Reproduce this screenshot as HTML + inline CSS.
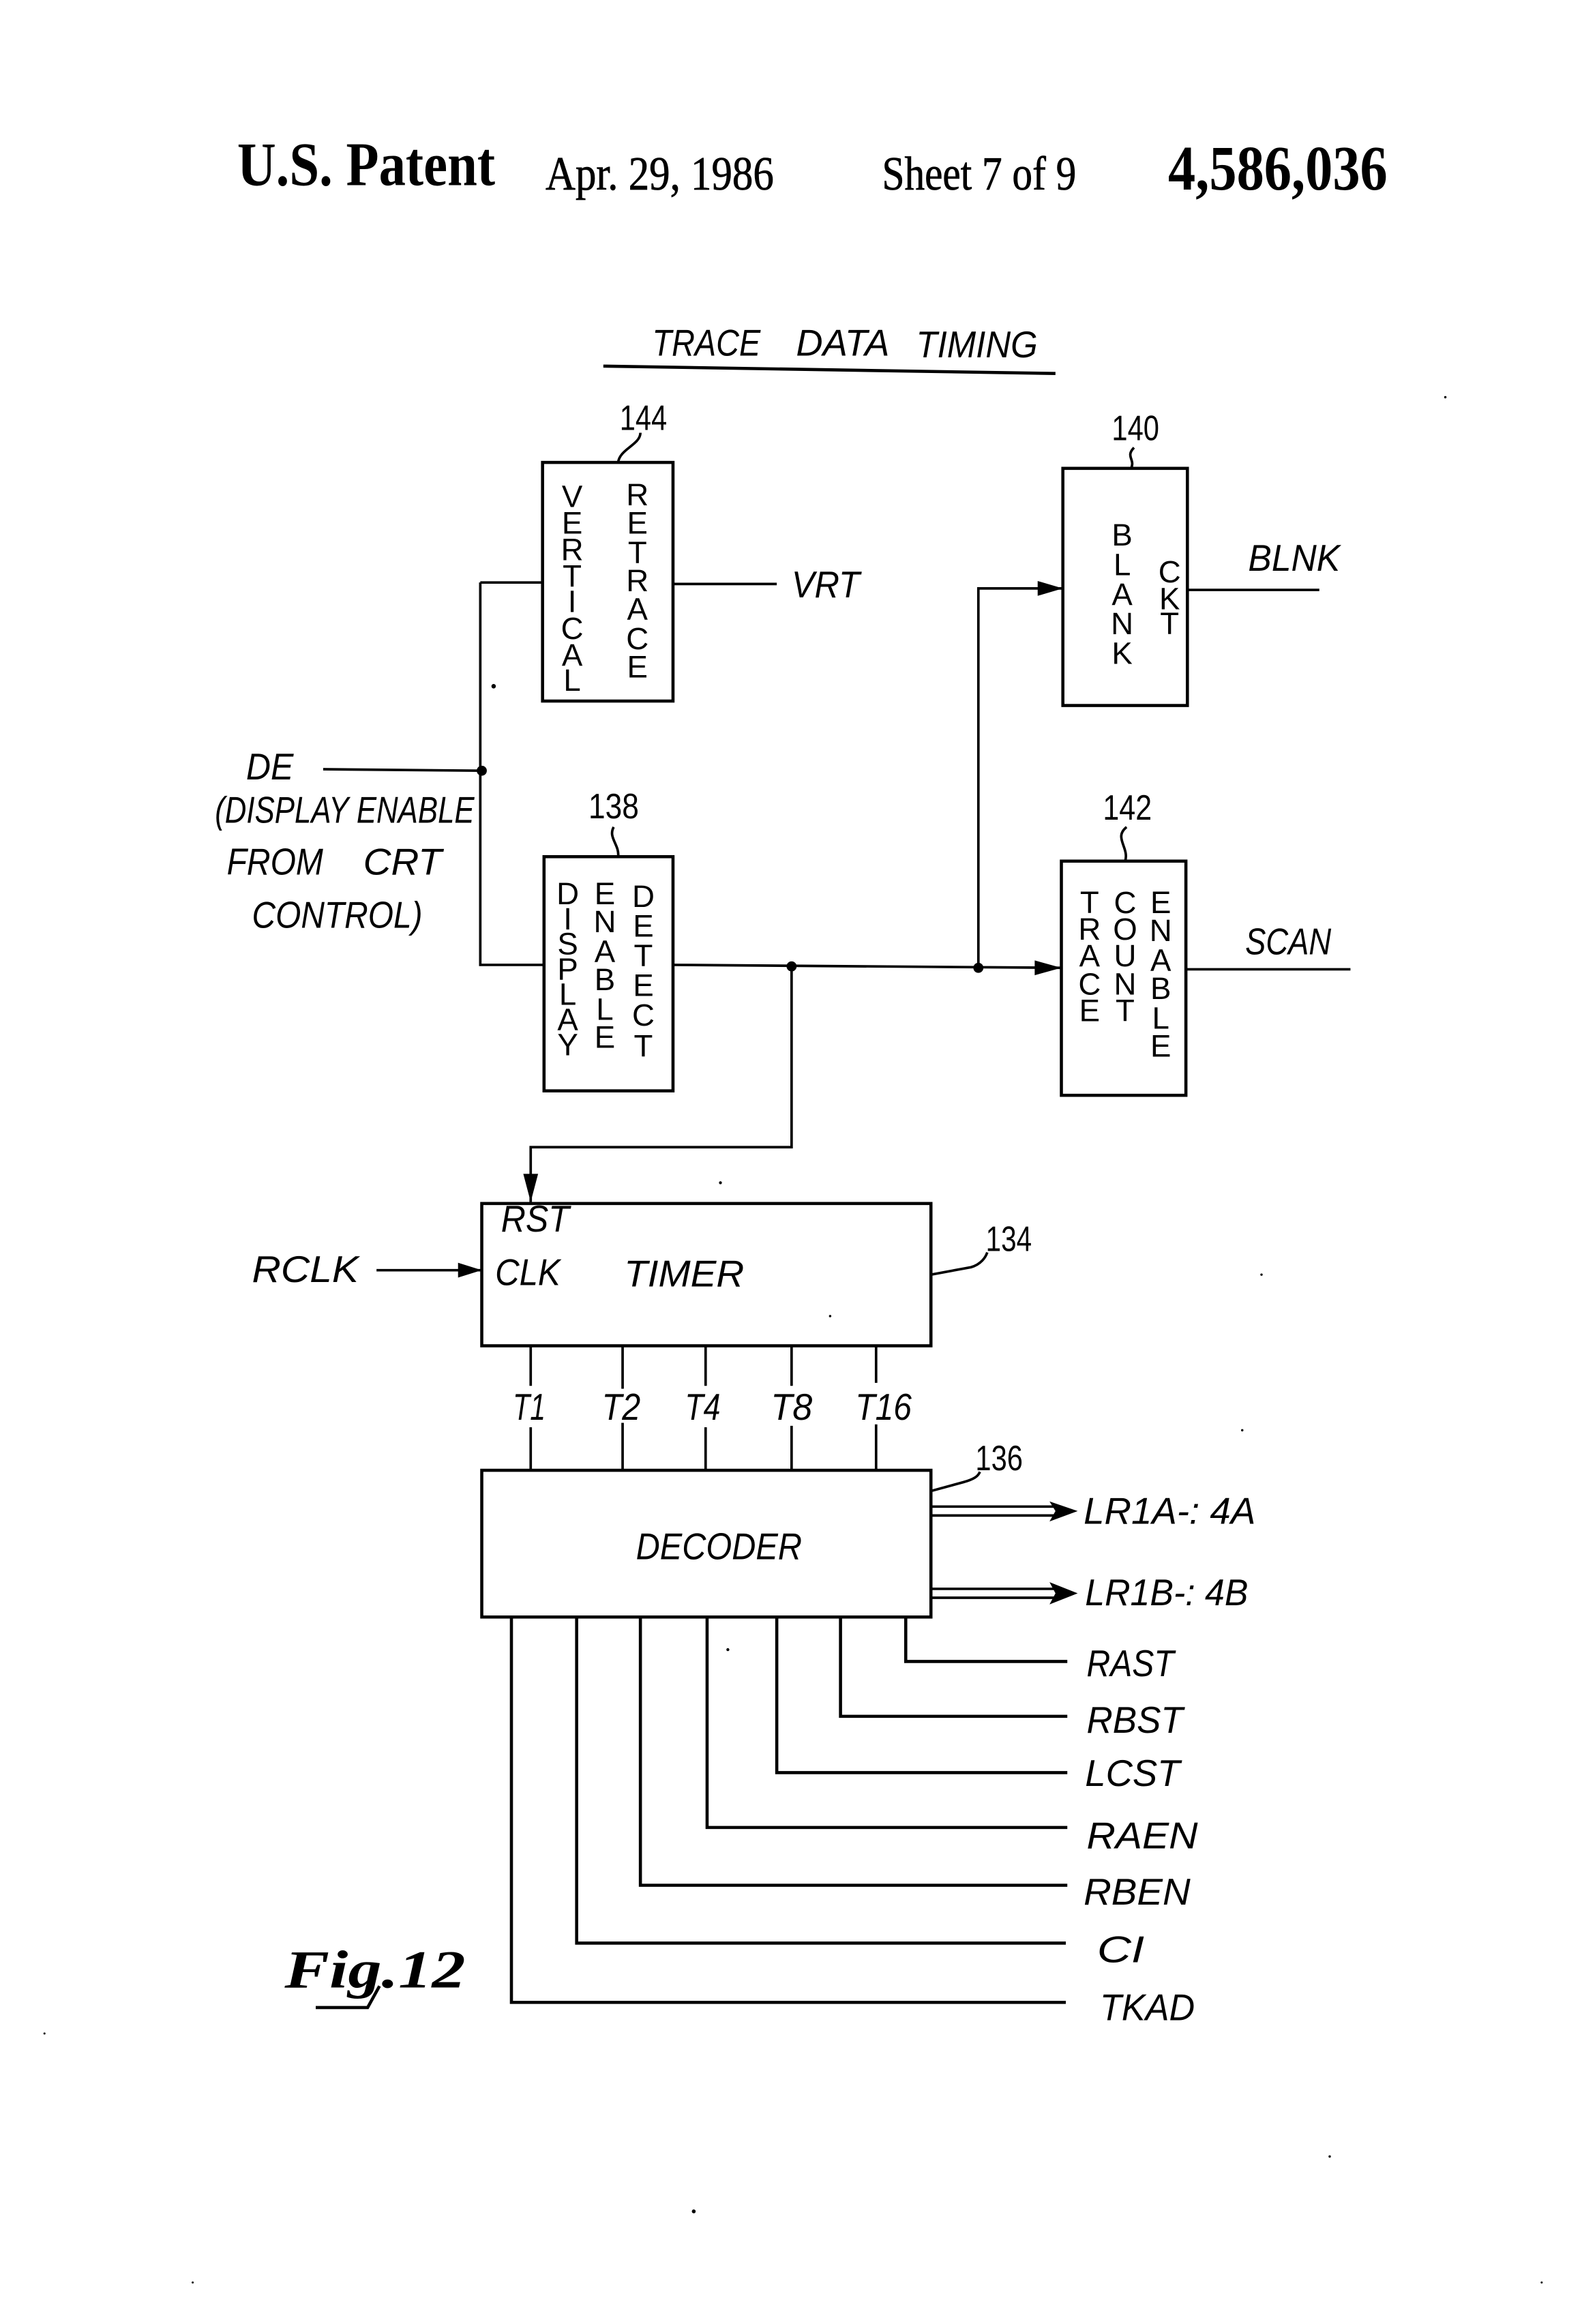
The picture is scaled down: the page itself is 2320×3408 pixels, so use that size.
<!DOCTYPE html>
<html><head><meta charset="utf-8"><title>Fig. 12</title>
<style>
html,body{margin:0;padding:0;background:#fff}
svg{display:block;width:2320px;height:3408px}
.l{fill:none;stroke:#000;stroke-width:1.7}
.d{fill:none;stroke:#000;stroke-width:2.1}
.b{fill:none;stroke:#000;stroke-width:2.1}
.h{font-family:"Liberation Sans",sans-serif;font-style:italic;fill:#000;font-size:25px}
.v{font-family:"Liberation Sans",sans-serif;fill:#000;font-size:21px;text-anchor:middle}
.n{font-family:"Liberation Sans",sans-serif;fill:#000;font-size:24px}
.s{font-family:"Liberation Serif",serif;fill:#000;font-weight:bold}
.r{font-family:"Liberation Serif",serif;fill:#000;stroke:#000;stroke-width:.35}
</style></head><body>
<svg viewBox="0 0 1067.2 1568" preserveAspectRatio="none" xmlns="http://www.w3.org/2000/svg">
<rect width="1067.2" height="1568" fill="#fff"/>
<!-- header -->
<text class="s" x="160" y="125" font-size="42" textLength="174" lengthAdjust="spacingAndGlyphs">U.S. Patent</text>
<text class="r" x="368" y="128" font-size="32" textLength="154" lengthAdjust="spacingAndGlyphs">Apr. 29, 1986</text>
<text class="r" x="595" y="128" font-size="32" textLength="131" lengthAdjust="spacingAndGlyphs">Sheet 7 of 9</text>
<text class="s" x="788" y="128" font-size="43" textLength="148" lengthAdjust="spacingAndGlyphs">4,586,036</text>
<!-- title -->
<text class="h" x="440" y="240" textLength="73" lengthAdjust="spacingAndGlyphs">TRACE</text>
<text class="h" x="537" y="240" textLength="63" lengthAdjust="spacingAndGlyphs">DATA</text>
<text class="h" x="618" y="241" textLength="82" lengthAdjust="spacingAndGlyphs">TIMING</text>
<path class="b" d="M407 247L712 252"/>
<!-- boxes -->
<rect class="b" x="366" y="312" width="88" height="161"/>
<rect class="b" x="367" y="578" width="87" height="158"/>
<rect class="b" x="717" y="316" width="84" height="160"/>
<rect class="b" x="716" y="581" width="84" height="158"/>
<rect class="b" x="325" y="812" width="303" height="96"/>
<rect class="b" x="325" y="992" width="303" height="99"/>
<!-- vertical text -->
<text class="v" x="386 386 386 386 386 386 386 386" y="342 360 378 396 413 431 449 466">VERTICAL</text>
<text class="v" x="430 430 430 430 430 430 430" y="341 360 380 399 418 438 457">RETRACE</text>
<text class="v" x="383 383 383 383 383 383 383" y="610 627 644 661 678 695 712">DISPLAY</text>
<text class="v" x="408 408 408 408 408 408" y="610 629 649 668 688 707">ENABLE</text>
<text class="v" x="434 434 434 434 434 434" y="612 632 652 672 692 713">DETECT</text>
<text class="v" x="757 757 757 757 757" y="368 388 408 428 448">BLANK</text>
<text class="v" x="789 789 789" y="393 411 428">CKT</text>
<text class="v" x="735 735 735 735 735" y="616 634 652 671 689">TRACE</text>
<text class="v" x="759 759 759 759 759" y="616 634 652 671 689">COUNT</text>
<text class="v" x="783 783 783 783 783 783" y="616 635 655 674 694 713">ENABLE</text>
<!-- connectors -->
<path class="l" d="M218 519L325 520M324 393H366M324 393V651H367M454 394H524"/>
<path class="l" d="M454 651L716 653M660 653V397H717M534 652V774H358V811"/>
<path class="l" d="M801 398H890M800 654H911"/>
<path class="l" d="M254 857H325"/>
<path d="M700 392L717 397L700 402ZM698 648L716 653L698 658ZM353 792L358 811L363 792ZM309 852L325 857L309 862Z" fill="#000"/>
<circle cx="325" cy="520" r="3.4"/><circle cx="534" cy="652" r="3.4"/><circle cx="660" cy="653" r="3.4"/>
<!-- T lines -->
<path class="l" d="M358 908V935M420 908V937M476 908V935M534 908V935M591 908V933M358 963V992M420 960V992M476 963V992M534 962V992M591 961V992"/>
<!-- leaders -->
<path class="l" d="M432 292C432 300 418 303 417 312M765 302C759 308 766 310 763 316M414 558C410 565 418 570 417 578M760 558C751 565 762 572 759 581M628 860L655 855C662 853 665 848 666 845M628 1006L650 1000C657 998 660 996 661 993"/>
<!-- double arrows -->
<path class="l" d="M628 1016.5H716M628 1022.5H716M628 1072H716M628 1078H716"/>
<path d="M708 1013L727 1019.5L708 1026.5L712 1019.5ZM708 1067.5L727 1075L708 1082.5L712 1075Z" fill="#000"/>
<!-- decoder outputs -->
<path class="d" d="M611 1091V1121H720M567 1091V1158H720M524 1091V1196H720M477 1091V1233H720M432 1091V1272H720M389 1091V1311H719M345 1091V1351H719"/>
<!-- labels -->
<text class="h" x="534" y="403" textLength="46" lengthAdjust="spacingAndGlyphs">VRT</text>
<text class="h" x="842" y="385" textLength="62" lengthAdjust="spacingAndGlyphs">BLNK</text>
<text class="h" x="840" y="644" textLength="58" lengthAdjust="spacingAndGlyphs">SCAN</text>
<text class="h" x="166" y="526" textLength="32" lengthAdjust="spacingAndGlyphs">DE</text>
<text class="h" x="145" y="555" textLength="175" lengthAdjust="spacingAndGlyphs">(DISPLAY ENABLE</text>
<text class="h" x="153" y="590" textLength="65" lengthAdjust="spacingAndGlyphs">FROM</text>
<text class="h" x="245" y="590" textLength="53" lengthAdjust="spacingAndGlyphs">CRT</text>
<text class="h" x="170" y="626" textLength="115" lengthAdjust="spacingAndGlyphs">CONTROL)</text>
<text class="n" x="418" y="290" textLength="32" lengthAdjust="spacingAndGlyphs">144</text>
<text class="n" x="750" y="297" textLength="32" lengthAdjust="spacingAndGlyphs">140</text>
<text class="n" x="397" y="552" textLength="34" lengthAdjust="spacingAndGlyphs">138</text>
<text class="n" x="744" y="553" textLength="33" lengthAdjust="spacingAndGlyphs">142</text>
<text class="n" x="665" y="844" textLength="31" lengthAdjust="spacingAndGlyphs">134</text>
<text class="n" x="658" y="992" textLength="32" lengthAdjust="spacingAndGlyphs">136</text>
<text class="h" x="338" y="831" textLength="46" lengthAdjust="spacingAndGlyphs">RST</text>
<text class="h" x="334" y="867" textLength="44" lengthAdjust="spacingAndGlyphs">CLK</text>
<text class="h" x="421" y="868" textLength="81" lengthAdjust="spacingAndGlyphs">TIMER</text>
<text class="h" x="170" y="865" textLength="72" lengthAdjust="spacingAndGlyphs">RCLK</text>
<text class="h" x="346" y="958" textLength="22" lengthAdjust="spacingAndGlyphs">T1</text>
<text class="h" x="406" y="958" textLength="26" lengthAdjust="spacingAndGlyphs">T2</text>
<text class="h" x="462" y="958" textLength="24" lengthAdjust="spacingAndGlyphs">T4</text>
<text class="h" x="520" y="958" textLength="28" lengthAdjust="spacingAndGlyphs">T8</text>
<text class="h" x="577" y="958" textLength="38" lengthAdjust="spacingAndGlyphs">T16</text>
<text class="h" x="429" y="1052" textLength="112" lengthAdjust="spacingAndGlyphs">DECODER</text>
<text class="h" x="731" y="1028" textLength="116" lengthAdjust="spacingAndGlyphs">LR1A-: 4A</text>
<text class="h" x="732" y="1083" textLength="110" lengthAdjust="spacingAndGlyphs">LR1B-: 4B</text>
<text class="h" x="733" y="1131" textLength="59" lengthAdjust="spacingAndGlyphs">RAST</text>
<text class="h" x="733" y="1169" textLength="65" lengthAdjust="spacingAndGlyphs">RBST</text>
<text class="h" x="732" y="1205" textLength="64" lengthAdjust="spacingAndGlyphs">LCST</text>
<text class="h" x="733" y="1247" textLength="75" lengthAdjust="spacingAndGlyphs">RAEN</text>
<text class="h" x="731" y="1285" textLength="72" lengthAdjust="spacingAndGlyphs">RBEN</text>
<text class="h" x="740" y="1324" textLength="32" lengthAdjust="spacingAndGlyphs">CI</text>
<text class="h" x="742" y="1363" textLength="64" lengthAdjust="spacingAndGlyphs">TKAD</text>
<!-- figure label -->
<text x="192" y="1341" font-family="Liberation Serif,serif" font-style="italic" font-weight="bold" font-size="36" textLength="122" lengthAdjust="spacingAndGlyphs">Fig.12</text>
<path class="d" d="M213 1354.5H248L256 1340"/>
<!-- specks -->
<g fill="#000">
<circle cx="333" cy="463" r="1.5"/><circle cx="486" cy="798" r="1"/><circle cx="491" cy="1113" r="1"/>
<circle cx="468" cy="1492" r="1.3"/><circle cx="560" cy="888" r=".8"/><circle cx="975" cy="268" r=".8"/>
<circle cx="851" cy="860" r=".8"/><circle cx="897" cy="1455" r=".8"/><circle cx="838" cy="965" r=".8"/>
<circle cx="30" cy="1372" r=".7"/><circle cx="1040" cy="1540" r=".7"/><circle cx="130" cy="1540" r=".7"/>
</g>
</svg>
</body></html>
